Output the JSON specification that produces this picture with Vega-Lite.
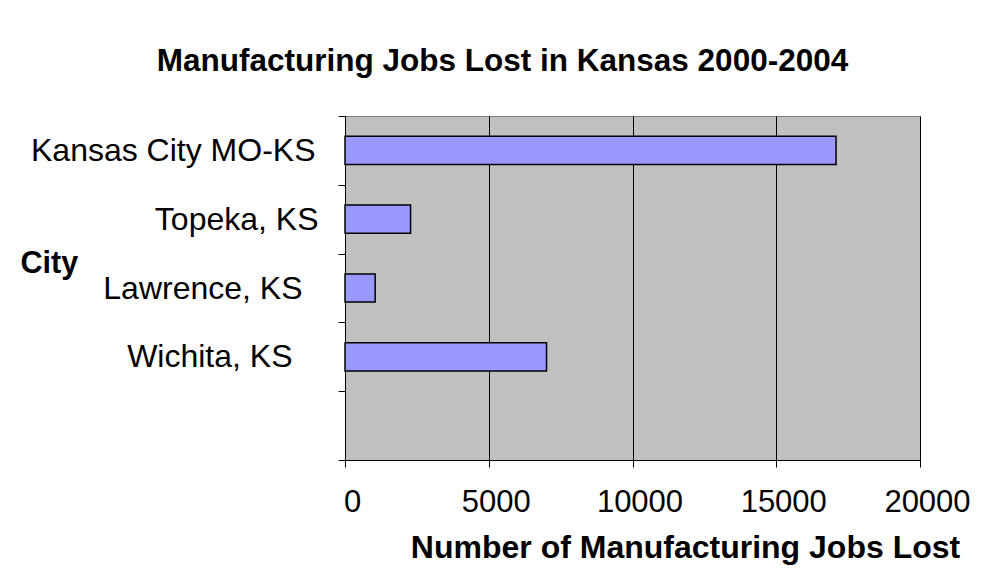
{
  "$schema": "https://vega.github.io/schema/vega-lite/v6.json",
  "autosize": "none",
  "width": 575,
  "height": 344,
  "padding": {"left": 345, "top": 116, "right": 85, "bottom": 119},
  "background": "white",
  "title": {
    "text": "Manufacturing Jobs Lost in Kansas 2000-2004",
    "font": "Liberation Sans",
    "fontSize": 31.5,
    "fontWeight": "bold",
    "color": "black",
    "anchor": "middle",
    "dx": -130,
    "offset": 23
  },
  "config": {
    "view": {"fill": "#c0c0c0", "stroke": "#808080", "strokeWidth": 1}
  },
  "data": {
    "values": [
      {"city": "Kansas City MO-KS", "jobs": 17080},
      {"city": "Topeka, KS", "jobs": 2280},
      {"city": "Lawrence, KS", "jobs": 1050},
      {"city": "Wichita, KS", "jobs": 7010}
    ]
  },
  "mark": {"type": "bar", "fill": "#9999ff", "stroke": "black", "strokeWidth": 1.5, "height": {"band": 0.41}},
  "encoding": {
    "y": {
      "field": "city",
      "type": "nominal",
      "scale": {
        "domain": ["Kansas City MO-KS", "Topeka, KS", "Lawrence, KS", "Wichita, KS", ""],
        "paddingInner": 0,
        "paddingOuter": 0
      },
      "axis": {
        "title": "City",
        "titleAngle": 0,
        "titleFont": "Liberation Sans",
        "titleFontSize": 30.5,
        "titleFontWeight": "bold",
        "titleColor": "black",
        "titleAlign": "left",
        "titleBaseline": "alphabetic",
        "titleX": -325,
        "titleY": 156,
        "labelFont": "Liberation Sans",
        "labelFontSize": 32,
        "labelColor": "black",
        "labelAlign": "right",
        "labelBaseline": "middle",
        "labelLimit": 400,
        "labelPadding": {
          "condition": [
            {"test": "datum.value == 'Kansas City MO-KS'", "value": 23},
            {"test": "datum.value == 'Lawrence, KS'", "value": 36},
            {"test": "datum.value == 'Wichita, KS'", "value": 46}
          ],
          "value": 20
        },
        "tickBand": "extent",
        "tickSize": 7,
        "tickColor": "black",
        "domainColor": "black",
        "domainWidth": 1,
        "grid": false
      }
    },
    "x": {
      "field": "jobs",
      "type": "quantitative",
      "scale": {"domain": [0, 20000], "nice": false},
      "axis": {
        "title": "Number of Manufacturing Jobs Lost",
        "values": [0, 5000, 10000, 15000, 20000],
        "format": "d",
        "grid": true,
        "gridColor": "black",
        "gridWidth": 1,
        "gridOpacity": 1,
        "tickSize": 7,
        "tickColor": "black",
        "domainColor": "black",
        "labelFont": "Liberation Sans",
        "labelFontSize": 31,
        "labelColor": "black",
        "labelPadding": 20,
        "labelOffset": 7,
        "labelFlush": false,
        "labelOverlap": false,
        "titleFont": "Liberation Sans",
        "titleFontSize": 32,
        "titleFontWeight": "bold",
        "titleColor": "black",
        "titleAlign": "center",
        "titleBaseline": "alphabetic",
        "titleX": 340,
        "titleY": 97
      }
    }
  }
}
